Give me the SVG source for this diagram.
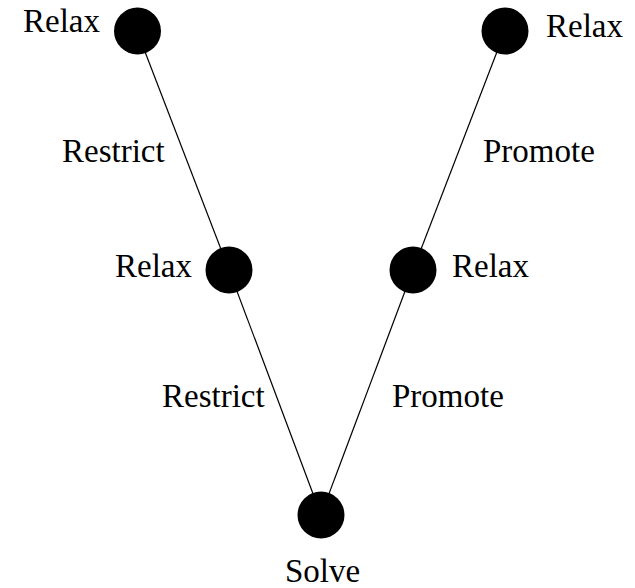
<svg xmlns="http://www.w3.org/2000/svg" width="635" height="588" viewBox="0 0 635 588">
  <style>
    .edge { stroke: #000; stroke-width: 1.2; fill: none; }
    .dot { fill: #000; }
    text { font-size: 33px; fill: #000; }
  </style>
  <rect width="635" height="588" fill="#fff"/>
  <g id="connectors">
    <line class="edge" x1="137" y1="31" x2="229" y2="270"/>
    <line class="edge" x1="229" y1="270" x2="321" y2="515"/>
    <line class="edge" x1="321" y1="515" x2="413" y2="270"/>
    <line class="edge" x1="413" y1="270" x2="505" y2="31"/>
  </g>
  <g font-family="'Liberation Serif', 'DejaVu Serif', serif">
    <g id="edge-labels">
      <text x="62" y="162">Restrict</text>
      <text x="162" y="407">Restrict</text>
      <text x="392" y="407">Promote</text>
      <text x="483" y="162">Promote</text>
    </g>
    <g id="relax-top-left">
      <circle class="dot" cx="137.5" cy="31" r="23.5"/>
      <text x="23" y="32">Relax</text>
    </g>
    <g id="relax-mid-left">
      <circle class="dot" cx="229" cy="270" r="23.5"/>
      <text x="115" y="277">Relax</text>
    </g>
    <g id="solve">
      <circle class="dot" cx="321" cy="515" r="23.5"/>
      <text x="285" y="582">Solve</text>
    </g>
    <g id="relax-mid-right">
      <circle class="dot" cx="413" cy="270" r="23.5"/>
      <text x="452" y="277">Relax</text>
    </g>
    <g id="relax-top-right">
      <circle class="dot" cx="505" cy="31" r="23.5"/>
      <text x="546" y="37">Relax</text>
    </g>
  </g>
</svg>
